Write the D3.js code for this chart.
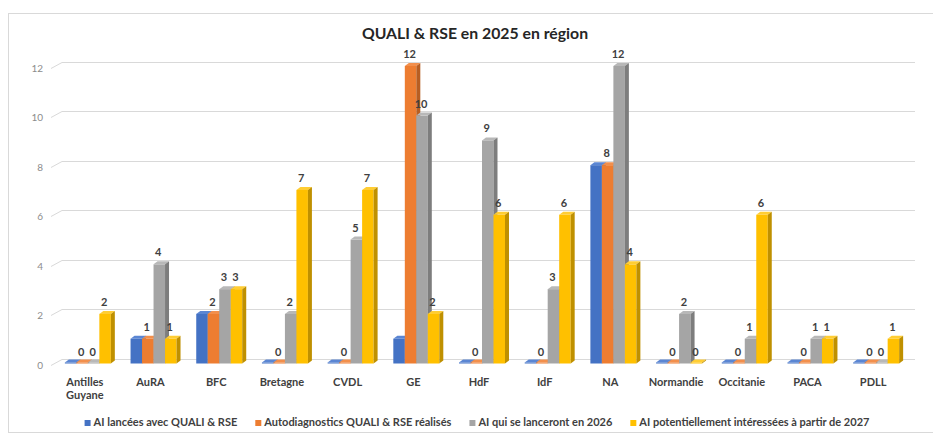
<!DOCTYPE html>
<html>
<head>
<meta charset="utf-8">
<script src="https://cdn.jsdelivr.net/npm/d3@7"></script>
<style>
body { margin: 0; background: #fff; }
svg { font-family: Lato, "Open Sans", sans-serif; }
</style>
</head>
<body>
<svg id="chart"></svg>
<script>
const WIDTH = 933;
const HEIGHT = 435;

const categories = ['Antilles Guyane', 'AuRA', 'BFC', 'Bretagne', 'CVDL', 'GE', 'HdF', 'IdF', 'NA', 'Normandie', 'Occitanie', 'PACA', 'PDLL'];
const seriesNames = ['AI lancées avec QUALI & RSE', 'Autodiagnostics QUALI & RSE réalisés', 'AI qui se lanceront en 2026', 'AI potentiellement intéressées à partir de 2027'];
const lancees = [0, 1, 2, 0, 0, 1, 0, 0, 8, 0, 0, 0, 0];
const autodiag = [0, 1, 2, 0, 0, 12, 0, 0, 8, 0, 0, 0, 0];
const en2026 = [0, 4, 3, 2, 5, 10, 9, 3, 12, 2, 1, 1, 0];
const des2027 = [2, 1, 3, 7, 7, 2, 6, 6, 4, 0, 6, 1, 1];
const yTicks = [0, 2, 4, 6, 8, 10, 12];

const series = [lancees, autodiag, en2026, des2027];
const showLabels = [false, true, true, true];
const front = ['#4472c4', '#ed7d31', '#a5a5a5', '#ffc000'];
const topFace = ['#5b86d3', '#f28f4c', '#b8b8b8', '#ffcd33'];
const side = ['#30579c', '#b85e22', '#7d7d7d', '#bf9000'];

const DX = 4, DY = 3;

const svg = d3.select('#chart')
	.attr('width', WIDTH)
	.attr('height', HEIGHT);

svg.append('rect')
	.attr('x', 8.5).attr('y', 13.5)
	.attr('width', 940).attr('height', 419)
	.attr('fill', 'white')
	.attr('stroke', '#d9d9d9');

const x = d3.scaleBand()
	.domain(categories)
	.range([55, 909])
	.paddingInner(0.3)
	.paddingOuter(0.15);

const xs = d3.scaleBand()
	.domain(d3.range(series.length))
	.range([0, x.bandwidth()]);

const y = d3.scaleLinear()
	.domain([0, 12])
	.range([363.5, 66]);

// gridlines on the back wall
const grid = svg.append('g');
yTicks.forEach(t => {
	const gy = Math.round(y(t) - 4.5) + 0.5;
	grid.append('path')
		.attr('d', `M51,${gy + 6}L62,${gy}L915,${gy}`)
		.attr('fill', 'none')
		.attr('stroke', '#d9d9d9')
		.attr('stroke-width', 1);
	grid.append('text')
		.attr('x', 43)
		.attr('y', y(t) + 3)
		.attr('text-anchor', 'end')
		.attr('dominant-baseline', 'middle')
		.attr('font-size', 10)
		.attr('fill', '#8c8c8c')
		.text(t);
});

// 3D columns
const bars = svg.append('g');
categories.forEach((c, i) => {
	series.forEach((s, k) => {
		const v = s[i];
		const x0 = x(c) + xs(k);
		const w = xs.bandwidth();
		const yb = y(0);
		const yt = Math.min(y(v), yb - 1);
		bars.append('rect')
			.attr('x', x0).attr('y', yt)
			.attr('width', w).attr('height', yb - yt)
			.attr('fill', front[k]);
		bars.append('path')
			.attr('d', `M${x0},${yt}L${x0 + DX},${yt - DY}L${x0 + w + DX},${yt - DY}L${x0 + w},${yt}Z`)
			.attr('fill', topFace[k]);
		bars.append('path')
			.attr('d', `M${x0 + w},${yt}L${x0 + w + DX},${yt - DY}L${x0 + w + DX},${yb - DY}L${x0 + w},${yb}Z`)
			.attr('fill', side[k]);
	});
});

// data labels
const labels = svg.append('g');
categories.forEach((c, i) => {
	series.forEach((s, k) => {
		if (!showLabels[k]) return;
		const v = s[i];
		labels.append('text')
			.attr('x', x(c) + xs(k) + xs.bandwidth() / 2 - 1)
			.attr('y', y(v) - 8)
			.attr('text-anchor', 'middle')
			.attr('font-size', 11)
			.attr('font-weight', 'bold')
			.attr('fill', '#404040')
			.text(v);
	});
});

// category labels
const catAxis = svg.append('g');
categories.forEach(c => {
	const t = catAxis.append('text')
		.attr('x', x(c) + x.bandwidth() / 2 - 3)
		.attr('y', 386)
		.attr('text-anchor', 'middle')
		.attr('font-size', 11)
		.attr('font-weight', 'bold')
		.attr('fill', '#404040');
	const words = c === 'Antilles Guyane' ? c.split(' ') : [c];
	words.forEach((wd, j) => {
		t.append('tspan')
			.attr('x', x(c) + x.bandwidth() / 2 - 3)
			.attr('dy', j === 0 ? 0 : 13)
			.text(wd);
	});
});

// title
svg.append('text')
	.attr('x', 475)
	.attr('y', 39)
	.attr('text-anchor', 'middle')
	.attr('font-size', 15.8)
	.attr('font-weight', 'bold')
	.attr('fill', '#262626')
	.text('QUALI & RSE en 2025 en région');

// legend
const legend = svg.append('g');
let lx = 0;
seriesNames.forEach((name, k) => {
	const g = legend.append('g');
	g.append('rect')
		.attr('x', 0).attr('y', -3)
		.attr('width', 6).attr('height', 6)
		.attr('fill', front[k]);
	const t = g.append('text')
		.attr('x', 9)
		.attr('y', 0)
		.attr('dominant-baseline', 'middle')
		.attr('font-size', 11)
		.attr('font-weight', 'bold')
		.attr('fill', '#404040')
		.text(name);
	const w = 9 + t.node().getComputedTextLength();
	g.attr('transform', `translate(${lx},0)`);
	lx += w + 18;
});
const legendWidth = lx - 18;
legend.attr('transform', `translate(${477 - legendWidth / 2},423)`);
</script>
</body>
</html>
